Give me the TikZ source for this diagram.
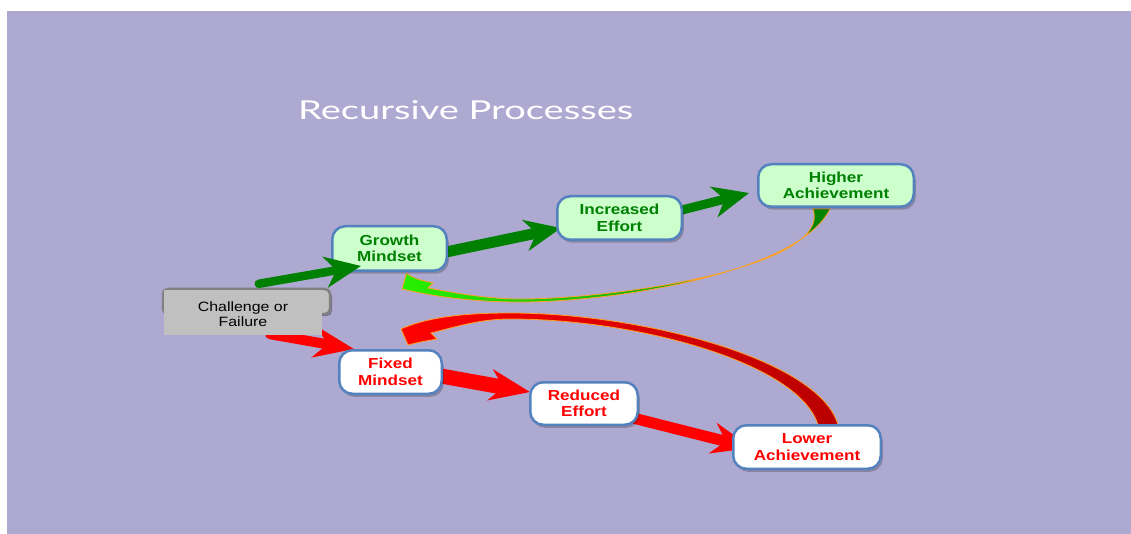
\documentclass[tikz,border=0pt]{standalone}
\usepackage{fontspec}
\setmainfont{Liberation Sans}[FakeStretch=1.18]
\newfontfamily\titlefont{Lato}
\usetikzlibrary{arrows.meta,calc,shadows,backgrounds}

\definecolor{bgpurple}{RGB}{174,169,209}
\definecolor{boxblue}{RGB}{84,130,190}
\definecolor{mintfill}{RGB}{204,255,204}
\definecolor{darkgreen}{RGB}{0,128,0}
\definecolor{limegreen}{RGB}{40,240,0}
\definecolor{greyfill}{RGB}{192,192,192}
\definecolor{greyline}{RGB}{128,128,128}
\definecolor{darkred}{RGB}{185,0,0}
\definecolor{edgeorange}{RGB}{255,160,40}

\tikzset{
  stepnode/.style={draw=boxblue, line width=2.5pt, rounded corners=13pt,
    align=center, inner sep=0pt, font=\bfseries\fontsize{14.5}{16.5}\selectfont,
    drop shadow={shadow xshift=2pt, shadow yshift=-3pt, opacity=0.22, fill=black}},
  goodnode/.style={stepnode, fill=mintfill, text=darkgreen},
  badnode/.style={stepnode, fill=white, text=red},
  gshaft/.style={draw=darkgreen, line width=#1, line cap=round,
    -{Stealth[length=36pt, width=31pt, inset=11pt]}},
  rshaft/.style={draw=red, line width=#1, line cap=round,
    -{Stealth[length=40pt, width=31pt, inset=13pt]}},
  loopback/.style={draw=edgeorange, line width=0.8pt},
}

\begin{document}
\begin{tikzpicture}[x=1pt, y=-1pt]
\useasboundingbox (0,0) rectangle (1131,534);

% title
\node[anchor=south west, inner sep=0pt, text=white] (title) at (298,119.5)
  {\resizebox{335pt}{19pt}{\titlefont Recursive Processes}};

% nodes of the two chains
\node[goodnode, minimum width=114.5pt, minimum height=44.5pt] (growth)    at (389.5,248.5) {Growth\\Mindset};
\node[goodnode, minimum width=124.5pt, minimum height=43.5pt] (increased) at (619.5,218)   {Increased\\Effort};
\node[goodnode, minimum width=155.5pt, minimum height=42.5pt] (higher)    at (836,185.5)   {Higher\\Achievement};
\node[badnode,  minimum width=102.5pt, minimum height=43.5pt] (fixed)     at (390.5,372)   {Fixed\\Mindset};
\node[badnode,  minimum width=107.5pt, minimum height=42.5pt] (reduced)   at (584,403.5)   {Reduced\\Effort};
\node[badnode,  minimum width=147.5pt, minimum height=43.5pt] (lower)     at (807,447)     {Lower\\Achievement};

% challenge box: grey label over a framed tab
\draw[greyline, line width=2.5pt, rounded corners=5pt, fill=greyfill,
      drop shadow={shadow xshift=2pt, shadow yshift=-2pt, opacity=0.3, fill=black}]
  (163,289) rectangle (330,314);
\node[fill=greyfill, minimum width=158pt, minimum height=45pt, inner sep=0pt,
      font=\fontsize{13.5}{15}\selectfont] (challenge) at (243,312.5)
  {\raisebox{-3pt}[\height][\depth]{\begin{tabular}{@{}c@{}}Challenge or\\Failure\end{tabular}}};

% the green step into growth mindset lies over its box
\draw[gshaft=8.5pt] ([shift={(95,-6)}]challenge.north west) -- ([shift={(30,-6)}]growth.south west);

\begin{pgfonlayer}{background}
\fill[bgpurple] (7,11) rectangle (1131,534);

% feedback loop: higher achievement back to growth mindset
\shadedraw[loopback, left color=limegreen, right color=darkgreen]
  ([shift={(-6,1)}]higher.south)
    .. controls +(-30,62) and +(100,0) .. (520,302)
    .. controls (480,302) and (440,298) .. ([shift={(71,17)}]growth.south west)
  -- ([shift={(75.5,1.5)}]growth.south west)
    .. controls ([shift={(85,7)}]growth.south west) .. ([shift={(102,11)}]growth.south west)
  -- ([shift={(97,16)}]growth.south west)
    .. controls (460,294) and (490,299) .. (520,299)
    .. controls +(100,0) and +(20,57) .. ([shift={(-23,1)}]higher.south)
  -- cycle;

% feedback loop: lower achievement back to fixed mindset
\shadedraw[loopback, left color=red, right color=darkred]
  ([shift={(31,1)}]lower.north)
    .. controls +(-18,-66) and +(130,0) .. (510,313)
    .. controls (470,313) and (430,316) .. ([shift={(63,-20)}]fixed.north west)
  -- ([shift={(70,-4)}]fixed.north west)
    .. controls ([shift={(82,-7)}]fixed.north west) .. ([shift={(99,-10)}]fixed.north west)
  -- ([shift={(93,-16)}]fixed.north west)
    .. controls (455,327) and (480,319) .. (510,319)
    .. controls +(130,0) and +(-18,-61) .. ([shift={(11,1)}]lower.north)
  -- cycle;

% straight steps of the two chains, under the boxes
\draw[gshaft=11pt] ([shift={(-2,3.5)}]growth.east) -- ([shift={(5,10)}]increased.west);
\draw[gshaft=9pt]  ([shift={(-1,-8)}]increased.east) -- ([shift={(-8,7.5)}]higher.west);
\draw[rshaft=15pt] ([shift={(-2,4)}]fixed.east) -- ([shift={(1,-11.5)}]reduced.west);
\draw[rshaft=11pt] ([shift={(-4,15)}]reduced.east) -- ([shift={(20,1)}]lower.west);
\draw[rshaft=10pt] ([shift={(27,-1)}]challenge.south) -- ([shift={(16,-23)}]fixed.west);
\end{pgfonlayer}
\end{tikzpicture}
\end{document}
